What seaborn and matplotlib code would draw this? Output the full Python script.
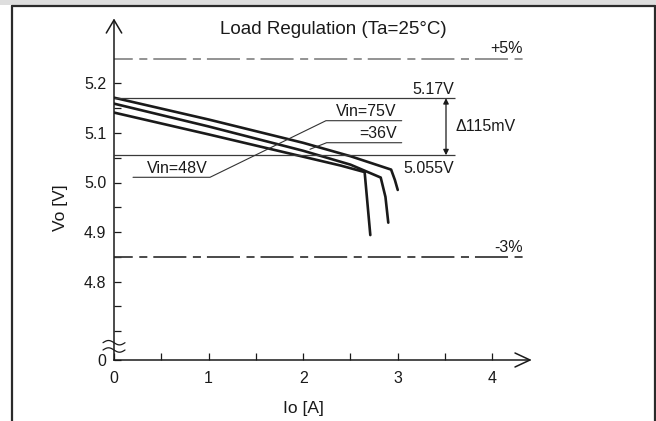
import numpy as np
import pandas as pd
import matplotlib
matplotlib.use("Agg")
import matplotlib.pyplot as plt
from matplotlib.lines import Line2D
from matplotlib.patches import Rectangle
from matplotlib.ticker import FixedLocator, NullFormatter
import seaborn as sns

# ---------------- data ----------------
io_75 = [0.0, 1.0, 2.0, 2.5, 2.93, 2.97, 3.0]
vo_75 = [5.171, 5.127, 5.080, 5.053, 5.026, 5.005, 4.985]
io_36 = [0.0, 1.0, 2.0, 2.5, 2.82, 2.87, 2.90]
vo_36 = [5.159, 5.113, 5.064, 5.036, 5.010, 4.971, 4.919]
io_48 = [0.0, 1.0, 2.0, 2.4, 2.65, 2.71]
vo_48 = [5.141, 5.097, 5.052, 5.034, 5.021, 4.894]

limit_values = [5.25, 4.85]
limit_labels = ["+5%", "-3%"]
ref_values = [5.17, 5.055]
ref_labels = ["5.17V", "5.055V"]
delta_label = "\u0394115mV"

x_major = [0, 1, 2, 3, 4]
x_minor = [0.5, 1.5, 2.5, 3.5]
y_major = [4.8, 4.9, 5.0, 5.1, 5.2]
y_minor = [4.7, 4.75, 4.85, 4.95, 5.05, 5.15]
y_break_label = "0"

title = "Load Regulation (Ta=25\u00b0C)"
xlabel = "Io [A]"
ylabel = "Vo [V]"

# ---------------- figure ----------------
sns.set_theme(style="white")
plt.rcParams["font.family"] = ["Liberation Sans", "DejaVu Sans"]
plt.rcParams["lines.scale_dashes"] = False

W, H = 656, 421
fig = plt.figure(figsize=(W / 100, H / 100), dpi=100)
fig.patch.set_facecolor("white")

# axes placed so data maps to the reference pixel grid
px_x = 94.58   # px per A
px_y = 496.0   # px per V
x0_px, axis_y_px, xend_px, ytop_px = 114, 360, 530, 20
xmax = (xend_px - x0_px) / px_x
ymin = 4.8 - (axis_y_px - 281.7) / px_y
ymax = 5.2 + (83.3 - ytop_px) / px_y
ax = fig.add_axes([x0_px / W, (H - axis_y_px) / H,
                   (xend_px - x0_px) / W, (axis_y_px - ytop_px) / H])
ax.set_xlim(0, xmax)
ax.set_ylim(ymin, ymax)
ax.set_facecolor("none")

ink = "#1a1a1a"

# curves
df = pd.concat([
    pd.DataFrame({"Io": io_75, "Vo": vo_75, "Vin": "75V"}),
    pd.DataFrame({"Io": io_36, "Vo": vo_36, "Vin": "36V"}),
    pd.DataFrame({"Io": io_48, "Vo": vo_48, "Vin": "48V"}),
])
sns.lineplot(data=df, x="Io", y="Vo", hue="Vin", palette=[ink] * 3,
             sort=False, estimator=None, legend=False, linewidth=1.9, ax=ax)

# limit lines (+5% / -3%)
dash = (10.3, (23.8, 4.7, 5.8, 4.3))
xlim_end = (522.7 - x0_px) / px_x
for val, lab, col in zip(limit_values, limit_labels, ["#8a8a8a", "#3a3a3a"]):
    ax.plot([0, xlim_end], [val, val], color=col, linewidth=1.3, linestyle=dash)
    ax.annotate(lab, (xlim_end, val), xytext=(0, 1.5), textcoords="offset points",
                ha="right", va="bottom", fontsize=11.5, color=ink)

# reference lines 5.17 / 5.055
ref_end = (455 - x0_px) / px_x
for val in ref_values:
    ax.hlines(val, 0, ref_end, colors="#3a3a3a", linewidth=0.9)
ax.annotate(ref_labels[0], (3.595, ref_values[0]), xytext=(0, 0.5),
            textcoords="offset points", ha="right", va="bottom", fontsize=11.5, color=ink)
ax.annotate(ref_labels[1], (3.595, ref_values[1]), xytext=(0, -4),
            textcoords="offset points", ha="right", va="top", fontsize=11.5, color=ink)
arr_x = (446 - x0_px) / px_x
ax.annotate("", xy=(arr_x, ref_values[0]), xytext=(arr_x, ref_values[1]),
            arrowprops=dict(arrowstyle="<|-|>", lw=0.9, color=ink,
                            mutation_scale=8, shrinkA=0, shrinkB=0))
ax.text(ref_end + 0.005, (ref_values[0] + ref_values[1]) / 2, delta_label,
        ha="left", va="center", fontsize=11.5, color=ink)

# leader lines and Vin labels
lead_c = "#333333"
ax.plot([0.201, 1.015, 2.241, 3.042], [5.0105, 5.0105, 5.1246, 5.1246],
        color=lead_c, lw=0.8)
ax.plot([2.072, 2.248, 3.042], [5.067, 5.0802, 5.0802], color=lead_c, lw=0.8)
ax.text(2.99, 5.1286, "Vin=75V", ha="right", va="bottom", fontsize=11.5, color=ink)
ax.text(2.99, 5.0835, "=36V", ha="right", va="bottom", fontsize=11.5, color=ink)
ax.text(0.349, 5.0135, "Vin=48V", ha="left", va="bottom", fontsize=11.5, color=ink)

# axes styling
for s in ["top", "right"]:
    ax.spines[s].set_visible(False)
for s in ["left", "bottom"]:
    ax.spines[s].set_color(ink)
    ax.spines[s].set_linewidth(1.1)

ax.xaxis.set_major_locator(FixedLocator(x_major))
ax.xaxis.set_minor_locator(FixedLocator(x_minor))
ax.set_xticklabels([str(v) for v in x_major])
ax.yaxis.set_major_locator(FixedLocator([ymin] + y_major))
ax.set_yticklabels([y_break_label] + [f"{v:.1f}" for v in y_major])
ax.yaxis.set_minor_locator(FixedLocator(y_minor))
ax.xaxis.set_minor_formatter(NullFormatter())
ax.yaxis.set_minor_formatter(NullFormatter())
ax.tick_params(axis="both", which="both", direction="in", length=5, width=0.9,
               color=ink, labelcolor=ink, labelsize=11.5,
               bottom=True, left=True)
ax.tick_params(axis="y", which="both", pad=5.5)
ax.tick_params(axis="x", which="both", pad=8)
ax.set_xlabel("")
ax.set_ylabel("")

# arrowheads
ahw, ahh = 7.7 / px_x, 13 / px_y
ax.plot([-ahw, 0, ahw], [ymax - ahh, ymax, ymax - ahh], color=ink, lw=1.1,
        clip_on=False, solid_joinstyle="miter")
rl, rh = 15 / px_x, 7 / px_y
ax.plot([xmax - rl, xmax, xmax - rl], [ymin + rh, ymin, ymin - rh], color=ink,
        lw=1.1, clip_on=False, solid_joinstyle="miter")

# axis break marks
t = np.linspace(0, 1, 60)
bx = -11 / px_x + t * 22 / px_x
for yc in [4.8 - (342.7 - 281.7) / px_y, 4.8 - (350 - 281.7) / px_y]:
    ax.plot(bx, yc + 2.2 / px_y * np.sin(2 * np.pi * t), color=ink, lw=0.9,
            clip_on=False)

# titles / labels
fig.text(333.6 / W, 1 - 30 / H, title, ha="center", va="center",
         fontsize=13.5, color=ink)
fig.text(303 / W, 1 - 408 / H, xlabel, ha="center", va="center",
         fontsize=12.5, color=ink)
fig.text(61 / W, 1 - 208 / H, ylabel, ha="center", va="center",
         fontsize=12.5, color=ink, rotation=90)

# outer frame
fig.add_artist(Rectangle((0, 1 - 5 / H), 1, 5 / H, transform=fig.transFigure,
                         facecolor="#dedede", edgecolor="none", zorder=-1))
frame_c = "#2b2b2b"
fig.add_artist(Line2D([12 / W, 12 / W], [0, 1 - 6 / H], color=frame_c, lw=1.6))
fig.add_artist(Line2D([12 / W, 655 / W], [1 - 6 / H, 1 - 6 / H], color=frame_c, lw=1.6))
fig.add_artist(Line2D([655 / W, 655 / W], [0, 1 - 6 / H], color=frame_c, lw=1.6))

fig.savefig("out.png", dpi=100)
